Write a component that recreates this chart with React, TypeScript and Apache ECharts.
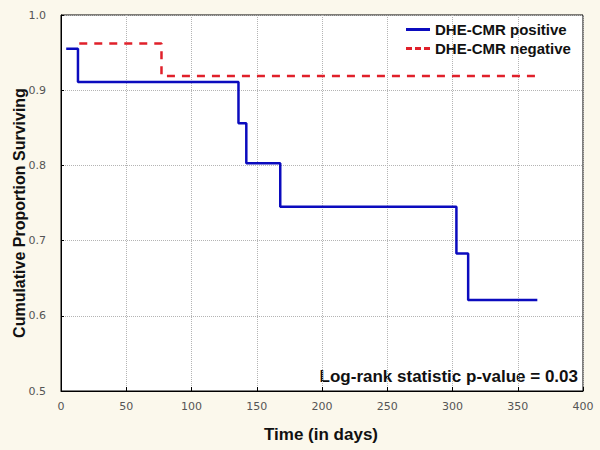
import React, { useEffect, useRef } from "react";
import * as echarts from "echarts";

const positiveDays = [4, 13, 136, 142, 168, 303, 312, 365];
const positiveSurv = [0.955, 0.911, 0.856, 0.803, 0.745, 0.683, 0.621, 0.621];
const negativeDays = [14, 77, 365];
const negativeSurv = [0.962, 0.919, 0.919];
const seriesNames = ["DHE-CMR positive", "DHE-CMR negative"];
const xTitle = "Time (in days)";
const yTitle = "Cumulative Proportion Surviving";
const note = "Log-rank statistic p-value = 0.03";

export default function App() {
  const ref = useRef<HTMLDivElement>(null);
  useEffect(() => {
    document.body.style.margin = "0";
    if (!ref.current) return;
    const chart = echarts.init(ref.current, undefined, { renderer: "svg" });
    const font = "'Liberation Sans', Arial, sans-serif";
    chart.setOption({
      animation: false,
      backgroundColor: "#FBF8EC",
      textStyle: { fontFamily: font },
      grid: {
        left: 61,
        right: 17,
        top: 15,
        bottom: 59,
        show: true,
        backgroundColor: "#ffffff",
        borderColor: "#000000",
        borderWidth: 1,
      },
      legend: {
        orient: "vertical",
        left: 401,
        top: 17,
        itemWidth: 24,
        itemHeight: 3,
        itemGap: 4,
        textStyle: { fontFamily: font, fontWeight: "bold", fontSize: 15, color: "#111" },
        data: [
          { name: seriesNames[0], icon: "path://M0,0h24v3h-24z" },
          { name: seriesNames[1], icon: "path://M0,0h6v3h-6zM9,0h6v3h-6zM18,0h6v3h-6z" },
        ],
      },
      xAxis: {
        type: "value",
        min: 0,
        max: 400,
        interval: 50,
        axisLine: { show: true, lineStyle: { color: "#000" } },
        axisTick: { show: true, inside: true, length: 4, lineStyle: { color: "#000" } },
        axisLabel: { color: "#555", fontSize: 11, margin: 10, fontFamily: "'DejaVu Sans', sans-serif" },
        splitLine: { show: true, lineStyle: { color: "#b4b4b4", type: "dotted", width: 1 } },
      },
      yAxis: {
        type: "value",
        min: 0.5,
        max: 1.0,
        interval: 0.1,
        axisLine: { show: true, lineStyle: { color: "#000" } },
        axisTick: { show: true, inside: true, length: 3, lineStyle: { color: "#000" } },
        axisLabel: {
          color: "#555",
          fontSize: 11,
          margin: 15,
          fontFamily: "'DejaVu Sans', sans-serif",
          formatter: (v: number) => v.toFixed(1),
        },
        splitLine: { show: true, lineStyle: { color: "#b4b4b4", type: "dotted", width: 1 } },
      },
      series: [
        {
          name: seriesNames[0],
          type: "line",
          step: "end",
          symbol: "none",
          data: positiveDays.map((d, i) => [d, positiveSurv[i]]),
          lineStyle: { color: "#0B0BBE", width: 2.5 },
          itemStyle: { color: "#0B0BBE" },
          z: 3,
        },
        {
          name: seriesNames[1],
          type: "line",
          step: "end",
          symbol: "none",
          data: negativeDays.map((d, i) => [d, negativeSurv[i]]),
          lineStyle: { color: "#E0202A", width: 2.5, type: [8, 7] },
          itemStyle: { color: "#E0202A" },
          z: 2,
        },
      ],
      graphic: [
        {
          type: "text",
          x: 19,
          y: 213,
          rotation: Math.PI / 2,
          style: {
            text: yTitle,
            fontFamily: font,
            fontWeight: "bold",
            fontSize: 16,
            fill: "#111",
            align: "center",
            verticalAlign: "middle",
          },
        },
        {
          type: "text",
          x: 321,
          y: 434,
          style: {
            text: xTitle,
            fontFamily: font,
            fontWeight: "bold",
            fontSize: 17,
            fill: "#111",
            align: "center",
            verticalAlign: "middle",
          },
        },
        {
          type: "text",
          x: 578,
          y: 376,
          style: {
            text: note,
            fontFamily: font,
            fontWeight: "bold",
            fontSize: 17,
            fill: "#111",
            align: "right",
            verticalAlign: "middle",
          },
        },
      ],
    });
    return () => chart.dispose();
  }, []);
  return <div ref={ref} style={{ width: 600, height: 450 }} />;
}
